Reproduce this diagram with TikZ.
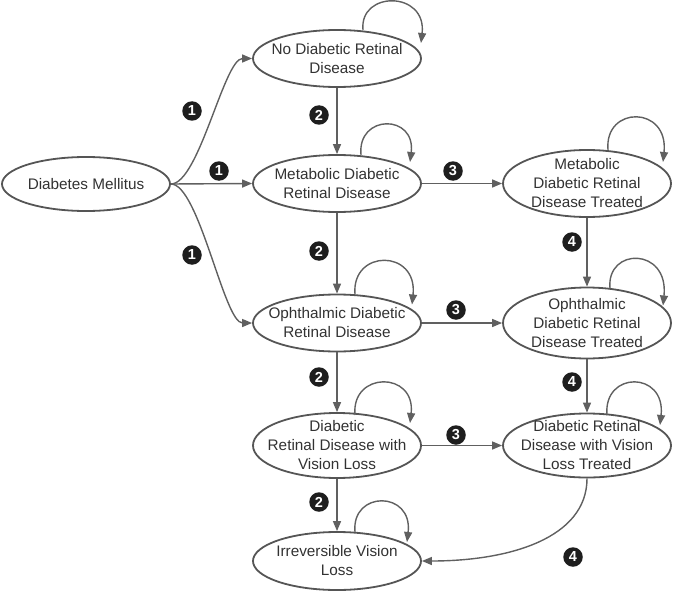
\documentclass[tikz,border=0pt]{standalone}
\usepackage{fontspec}
\setmainfont{Liberation Sans}
\usetikzlibrary{shapes.geometric,arrows.meta,calc}
\definecolor{edgec}{RGB}{96,96,96}
\definecolor{linec}{RGB}{85,85,85}
\definecolor{txt}{RGB}{50,50,50}
\definecolor{badgec}{RGB}{30,30,30}
\newcommand\sloop[7]{\draw[arr] ($(#1.center)+(#2,#3)$) .. controls +(-4,#6) and +(6,#7) .. ($(#1.center)+(#4,#5)$);}
\begin{document}
\begin{tikzpicture}[x=1pt,y=-1pt,
  state/.style={ellipse, draw=linec, line width=1.8pt, minimum width=168pt, minimum height=#1,
    inner xsep=-30pt, inner ysep=-30pt, align=center, text=txt,
    font=\fontsize{15.3}{19}\selectfont},
  arr/.style={draw=edgec, line width=1.4pt, -{Triangle[length=10pt,width=8pt]}},
  badge/.style={circle, fill=badgec, text=white, minimum size=19.5pt, inner sep=0pt,
    font=\bfseries\fontsize{14.5}{14.5}\selectfont}]
\useasboundingbox (0,0) rectangle (674,591);

\node[state=54pt] (dm) at (86,184) {Diabetes Mellitus};
\node[state=57pt] (nodr) at (337,58.5) {No Diabetic Retinal\\Disease};
\node[state=57pt] (mdr) at (337,183.5) {Metabolic Diabetic\\Retinal Disease};
\node[state=67pt] (mdrt) at (587,183.5) {Metabolic\\Diabetic Retinal\\Disease Treated};
\node[state=57pt] (odr) at (337,323) {Ophthalmic Diabetic\\Retinal Disease};
\node[state=71pt] (odrt) at (587,323) {Ophthalmic\\Diabetic Retinal\\Disease Treated};
\node[state=65pt] (vl) at (337,445.5) {Diabetic\\Retinal Disease with\\Vision Loss};
\node[state=64pt] (vlt) at (587,445.5) {Diabetic Retinal\\Disease with Vision\\Loss Treated};
\node[state=58pt] (irr) at (337,561) {Irreversible Vision\\Loss};

% edges from Diabetes Mellitus
\draw[arr] (dm.east) .. controls +(28,0) and +(-28,0) .. (nodr.west);
\draw[arr] (dm.east) -- (mdr.west);
\draw[arr] (dm.east) .. controls +(28,0) and +(-28,0) .. (odr.west);

% vertical (2)
\draw[arr] (nodr) -- (mdr);
\draw[arr] (mdr) -- (odr);
\draw[arr] (odr) -- (vl);
\draw[arr] (vl) -- (irr);

% horizontal (3)
\draw[arr] (mdr) -- (mdrt);
\draw[arr] (odr) -- (odrt);
\draw[arr] (vl) -- (vlt);

% (4)
\draw[arr] (mdrt) -- (odrt);
\draw[arr] (odrt) -- (vlt);
\draw[arr] (vlt.south) .. controls +(0,60) and +(87,0) .. (irr.east);

% self loops
\sloop{nodr}{26}{-28.5}{84}{-15.5}{-39.5}{-52.5}
\sloop{mdr}{24}{-28.5}{73}{-21.5}{-41.2}{-48.2}
\sloop{mdrt}{21}{-33.5}{76}{-21.5}{-44.7}{-56.7}
\sloop{odr}{18}{-28.5}{75}{-18.5}{-45.7}{-55.7}
\sloop{odrt}{23}{-34.5}{76}{-17.5}{-41.5}{-58.5}
\sloop{vl}{18}{-30.5}{73}{-22.5}{-44}{-52}
\sloop{vlt}{20}{-30.5}{73}{-20.5}{-44.3}{-54.3}
\sloop{irr}{18}{-29}{70}{-19}{-41.7}{-51.7}

% badges
\node[badge] (b1a) at (192,111) {1};
\node[badge] (b1b) at (219,171) {1};
\node[badge] (b1c) at (192,255) {1};
\node[badge] (b2a) at (319,115) {2};
\node[badge] (b2b) at (319,251) {2};
\node[badge] (b2c) at (319,377) {2};
\node[badge] (b2d) at (319,502) {2};
\node[badge] (b3a) at (453,171) {3};
\node[badge] (b3b) at (456,310) {3};
\node[badge] (b3c) at (456,435) {3};
\node[badge] (b4a) at (572,242) {4};
\node[badge] (b4b) at (572,382) {4};
\node[badge] (b4c) at (573,557) {4};
\end{tikzpicture}
\end{document}
